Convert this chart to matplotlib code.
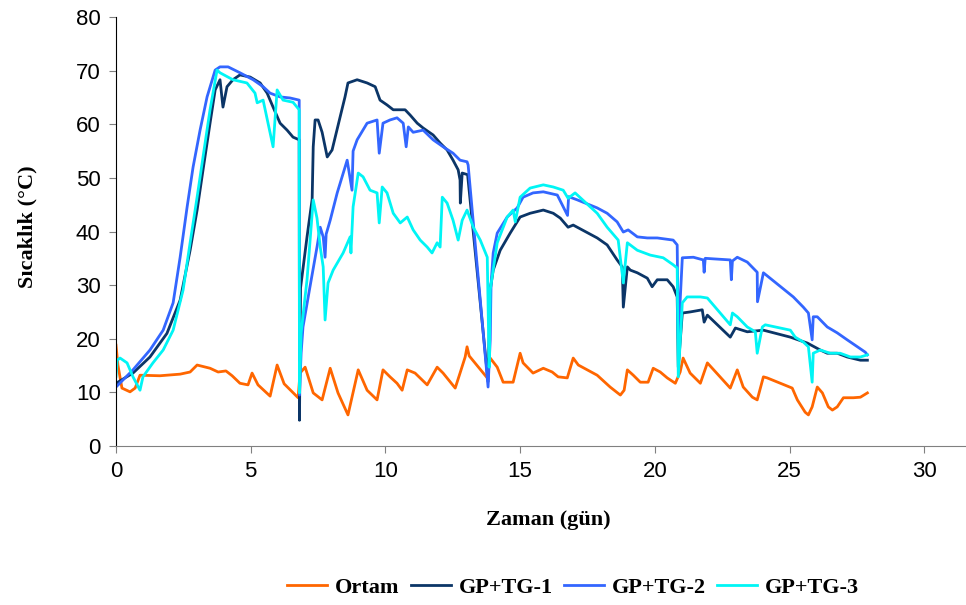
import matplotlib
matplotlib.use("Agg")
import matplotlib.pyplot as plt

# (gün, °C) noktaları
ortam = [
    (0.00, 18.8), (0.07, 15.1), (0.22, 10.8), (0.52, 10.1), (0.71, 10.8), (0.89, 13.2),
    (1.63, 13.1), (2.38, 13.4), (2.75, 13.8), (3.01, 15.1), (3.49, 14.5), (3.79, 13.8),
    (4.08, 14.0), (4.31, 13.1), (4.60, 11.7), (4.90, 11.4), (5.05, 13.6), (5.27, 11.4),
    (5.72, 9.3), (5.98, 15.1), (6.24, 11.6), (6.76, 9.0), (6.83, 13.6), (7.02, 14.7),
    (7.32, 9.9), (7.65, 8.6), (7.95, 14.5), (8.24, 9.9), (8.61, 5.8), (8.99, 14.2),
    (9.32, 10.4), (9.69, 8.6), (9.91, 14.2), (10.17, 12.9), (10.43, 11.7), (10.62, 10.4),
    (10.81, 14.2), (11.10, 13.6), (11.55, 11.4), (11.92, 14.7), (12.14, 13.6), (12.59, 10.8),
    (12.77, 13.6), (12.96, 16.6), (13.03, 18.5), (13.11, 16.8), (13.78, 12.7), (13.89, 16.4),
    (14.15, 14.7), (14.37, 11.9), (14.74, 11.9), (15.00, 17.3), (15.11, 15.5), (15.48, 13.6),
    (15.86, 14.5), (16.19, 13.8), (16.41, 12.9), (16.75, 12.7), (16.97, 16.4), (17.16, 15.1),
    (17.86, 13.2), (18.34, 11.0), (18.72, 9.5), (18.86, 10.4), (18.98, 14.2), (19.20, 13.2),
    (19.46, 11.9), (19.75, 11.9), (19.94, 14.5), (20.20, 13.8), (20.46, 12.7), (20.76, 11.7),
    (20.94, 13.8), (21.05, 16.4), (21.31, 13.6), (21.69, 11.7), (21.95, 15.5), (22.80, 10.8),
    (23.06, 14.2), (23.28, 11.0), (23.62, 9.1), (23.80, 8.6), (24.03, 12.9), (24.17, 12.7),
    (25.10, 10.8), (25.29, 8.6), (25.58, 6.3), (25.70, 5.8), (25.84, 7.3), (26.03, 11.0),
    (26.22, 9.9), (26.44, 7.3), (26.59, 6.7), (26.77, 7.3), (27.00, 9.0), (27.37, 9.0),
    (27.63, 9.1), (27.89, 9.9),
]

gp_tg1 = [
    (0.00, 11.7), (0.63, 13.6), (1.26, 16.6), (1.89, 21.0), (2.38, 27.2), (2.75, 36.5),
    (3.01, 44.0), (3.23, 51.5), (3.49, 60.2), (3.68, 66.4), (3.86, 68.3), (3.97, 63.2),
    (4.12, 67.0), (4.34, 68.3), (4.60, 69.2), (4.98, 68.8), (5.35, 67.7), (5.61, 65.8),
    (5.83, 63.2), (6.09, 60.2), (6.35, 58.9), (6.57, 57.6), (6.80, 57.1), (6.81, 4.8),
    (6.85, 29.5), (7.09, 39.0), (7.28, 46.0), (7.32, 55.8), (7.39, 60.8), (7.50, 60.8),
    (7.65, 58.5), (7.84, 53.9), (8.02, 55.2), (8.32, 61.4), (8.50, 65.1), (8.61, 67.7),
    (8.95, 68.3), (9.32, 67.7), (9.62, 67.0), (9.80, 64.5), (10.06, 63.6), (10.29, 62.7),
    (10.73, 62.7), (10.92, 61.7), (11.18, 60.2), (11.40, 59.3), (11.77, 58.0), (12.03, 56.5),
    (12.29, 55.2), (12.51, 53.3), (12.70, 51.5), (12.77, 49.6), (12.78, 45.3), (12.85, 50.9),
    (13.05, 50.6), (13.81, 12.0), (13.89, 29.1), (14.00, 32.8), (14.26, 36.5), (14.63, 39.7),
    (15.00, 42.7), (15.37, 43.4), (15.86, 44.0), (16.23, 43.4), (16.49, 42.5), (16.78, 40.8),
    (16.97, 41.2), (17.86, 38.8), (18.23, 37.5), (18.60, 34.7), (18.79, 33.4), (18.83, 25.9),
    (18.98, 33.4), (19.09, 32.8), (19.35, 32.3), (19.72, 31.3), (19.90, 29.7), (20.09, 31.0),
    (20.46, 31.0), (20.68, 29.7), (20.83, 27.8), (20.87, 14.7), (21.02, 24.8), (21.31, 25.0),
    (21.76, 25.4), (21.83, 23.1), (21.95, 24.4), (22.80, 20.3), (22.99, 22.0), (23.43, 21.3),
    (24.03, 21.6), (25.03, 20.3), (25.66, 19.2), (26.14, 17.9), (26.40, 17.3), (26.77, 17.3),
    (27.14, 16.6), (27.63, 16.0), (27.89, 16.0),
]

gp_tg2 = [
    (0.00, 11.0), (0.63, 14.2), (1.26, 17.9), (1.75, 21.6), (2.12, 26.7), (2.38, 35.2),
    (2.64, 44.6), (2.86, 52.0), (3.12, 58.9), (3.38, 65.1), (3.68, 70.1), (3.86, 70.7),
    (4.16, 70.7), (4.60, 69.6), (5.09, 68.3), (5.46, 67.0), (5.72, 65.8), (6.09, 65.1),
    (6.46, 64.9), (6.80, 64.5), (6.81, 9.5), (6.87, 17.3), (6.94, 22.2), (7.20, 29.7),
    (7.46, 37.1), (7.58, 40.8), (7.69, 39.0), (7.76, 35.2), (7.80, 39.5), (7.95, 42.1),
    (8.21, 47.2), (8.58, 53.3), (8.76, 47.7), (8.80, 55.0), (8.95, 57.1), (9.32, 60.2),
    (9.69, 60.8), (9.77, 54.6), (9.91, 60.2), (10.17, 60.8), (10.43, 61.2), (10.66, 60.2),
    (10.77, 55.8), (10.85, 59.5), (11.03, 58.5), (11.40, 58.9), (11.77, 57.1), (12.14, 55.8),
    (12.51, 54.6), (12.77, 53.3), (13.03, 53.0), (13.07, 52.4), (13.81, 11.0), (13.89, 19.8),
    (13.92, 30.0), (14.00, 36.0), (14.15, 39.7), (14.52, 42.7), (14.89, 44.4), (15.11, 46.4),
    (15.48, 47.2), (15.86, 47.4), (16.38, 46.8), (16.76, 43.0), (16.80, 46.5), (17.12, 45.9),
    (17.86, 44.4), (18.23, 43.4), (18.60, 41.8), (18.83, 39.9), (19.01, 40.3), (19.35, 39.0),
    (19.72, 38.8), (20.09, 38.8), (20.68, 38.4), (20.83, 37.5), (20.87, 20.0), (21.02, 35.1),
    (21.43, 35.2), (21.80, 34.7), (21.83, 32.4), (21.87, 35.0), (22.17, 34.9), (22.80, 34.7),
    (22.84, 31.0), (22.88, 34.5), (23.06, 35.2), (23.43, 34.3), (23.80, 32.4), (23.81, 26.9),
    (24.03, 32.3), (25.14, 27.8), (25.51, 25.9), (25.70, 24.8), (25.84, 19.8), (25.88, 24.1),
    (26.03, 24.1), (26.40, 22.2), (26.77, 21.1), (27.14, 19.8), (27.52, 18.5), (27.81, 17.5),
    (27.89, 17.0),
]

gp_tg3 = [
    (0.00, 13.0), (0.04, 16.0), (0.15, 16.4), (0.41, 15.5), (0.63, 12.9), (0.89, 10.4),
    (1.00, 12.9), (1.37, 15.5), (1.75, 17.9), (2.12, 21.6), (2.49, 29.1), (2.75, 37.9),
    (3.01, 46.4), (3.23, 53.9), (3.49, 62.7), (3.75, 70.1), (3.86, 69.6), (4.34, 68.3),
    (4.86, 67.7), (5.16, 65.8), (5.24, 64.0), (5.46, 64.5), (5.83, 55.8), (5.98, 66.4),
    (6.20, 64.5), (6.57, 64.1), (6.80, 62.7), (6.81, 9.9), (6.87, 21.0), (7.00, 27.0),
    (7.09, 31.0), (7.32, 45.9), (7.46, 42.5), (7.58, 37.1), (7.69, 33.4), (7.76, 23.5),
    (7.87, 30.4), (8.06, 32.8), (8.43, 36.0), (8.69, 39.0), (8.72, 36.0), (8.80, 44.6),
    (8.99, 50.9), (9.17, 50.2), (9.43, 47.7), (9.69, 47.2), (9.77, 41.6), (9.88, 48.3),
    (10.06, 47.2), (10.29, 43.4), (10.55, 41.6), (10.81, 42.7), (11.03, 40.3), (11.29, 38.4),
    (11.55, 37.1), (11.73, 36.0), (11.92, 37.9), (12.03, 37.1), (12.11, 46.4), (12.29, 45.3),
    (12.51, 42.1), (12.70, 38.4), (12.85, 42.1), (13.03, 44.0), (13.26, 40.8), (13.52, 38.4),
    (13.78, 35.2), (13.85, 14.7), (13.89, 29.1), (14.15, 37.9), (14.52, 42.7), (14.74, 44.0),
    (14.82, 41.8), (15.00, 46.4), (15.37, 48.1), (15.86, 48.7), (16.23, 48.3), (16.60, 47.7),
    (16.78, 46.2), (17.04, 47.2), (17.86, 43.4), (18.23, 40.8), (18.64, 38.4), (18.83, 30.4),
    (18.98, 37.9), (19.35, 36.5), (19.83, 35.6), (20.31, 35.1), (20.68, 33.8), (20.83, 33.2),
    (20.87, 12.9), (21.02, 26.7), (21.20, 27.8), (21.69, 27.8), (21.95, 27.6), (22.80, 22.6),
    (22.88, 24.8), (23.06, 24.1), (23.43, 22.2), (23.73, 21.3), (23.80, 17.3), (23.99, 22.2),
    (24.10, 22.6), (25.03, 21.6), (25.21, 20.3), (25.51, 19.4), (25.70, 18.5), (25.84, 11.9),
    (25.88, 17.3), (26.14, 17.9), (26.51, 17.3), (26.88, 17.3), (27.26, 16.6), (27.63, 16.6),
    (27.89, 17.0),
]

series = [
    ("Ortam", ortam, "#ff6600"),
    ("GP+TG-1", gp_tg1, "#0b3567"),
    ("GP+TG-2", gp_tg2, "#3366ff"),
    ("GP+TG-3", gp_tg3, "#00f5f5"),
]

fig = plt.figure(figsize=(9.66, 6.05), dpi=100)
ax = fig.add_axes([0.1201, 0.2628, 0.8799, 0.7091])

for name, pts, color in series:
    xs = [p[0] for p in pts]
    ys = [p[1] for p in pts]
    ax.plot(xs, ys, color=color, lw=2.0, label=name)

ax.set_xlim(0, 31.55)
ax.set_ylim(0, 80)
ax.set_xticks(range(0, 31, 5))
ax.set_yticks(range(0, 81, 10))

for s in ["top", "right"]:
    ax.spines[s].set_visible(False)
ax.spines["left"].set_color("black")
ax.spines["bottom"].set_color("#808080")
ax.tick_params(direction="out", length=5, color="#808080", labelsize=16, pad=6)
for lab in ax.get_xticklabels() + ax.get_yticklabels():
    lab.set_fontfamily("Liberation Sans")

serif_bold = dict(family="Liberation Serif", weight="bold", size=16)
fig.text(0.028, 0.625, "Sıcaklık (°C)", rotation=90, ha="center", va="center", **serif_bold)
fig.text(548 / 966, 1 - 520 / 605, "Zaman (gün)", ha="center", va="center", **serif_bold)

leg = fig.legend(loc="center", bbox_to_anchor=(573 / 966, 1 - 588 / 605), ncol=4,
                 frameon=False, handlelength=1.8, handletextpad=0.35, columnspacing=0.5,
                 prop={"family": "Liberation Serif", "weight": "bold", "size": 16})

fig.savefig("out.png", dpi=100)
